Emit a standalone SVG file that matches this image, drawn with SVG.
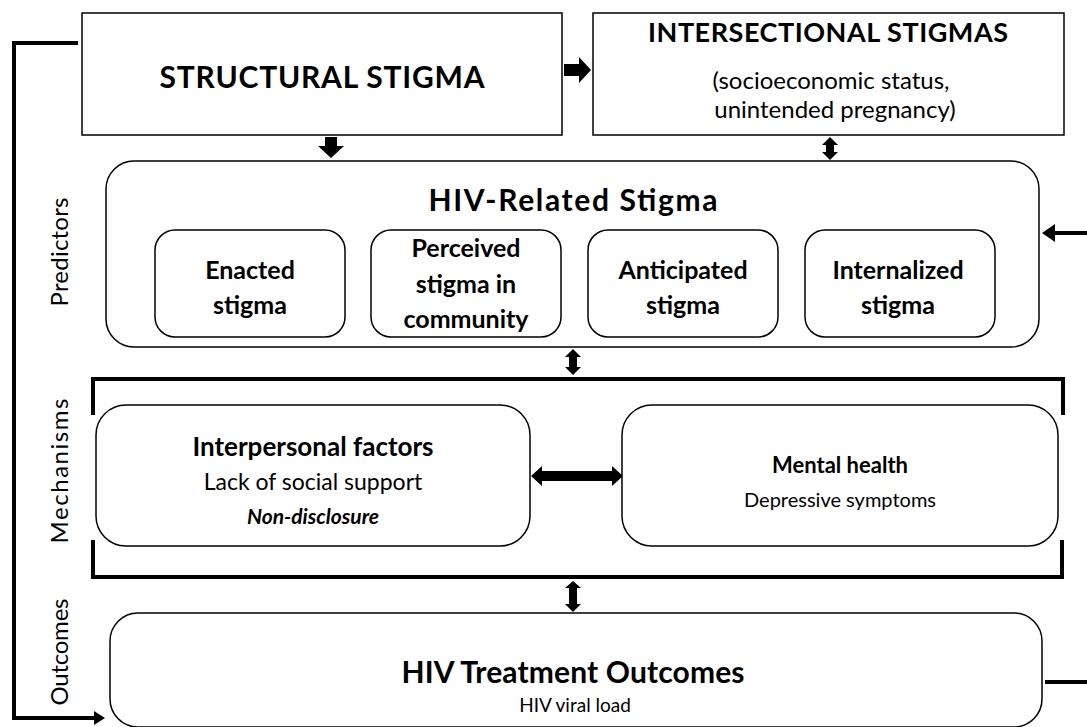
<svg xmlns="http://www.w3.org/2000/svg" width="1087" height="727" viewBox="0 0 1087 727">
<style>
.box{fill:#fff;stroke:#000;stroke-width:1.5}
.t{font-family:Lato,"Liberation Sans",sans-serif;fill:#000;text-anchor:middle}
.b{font-weight:bold}
.line{fill:none;stroke:#000;stroke-width:4}
.ah{fill:#000}
</style>
<rect width="1087" height="727" fill="#fff"/>
<g id="connectors">
<path class="line" d="M78,43 H14 V718 H96"/>
<polygon class="ah" points="94,711 105,718 94,725"/>
<path class="line" d="M1087,682 H1045"/>
<path class="line" d="M1087,233 H1054"/>
<polygon class="ah" points="1055,224 1042,233 1055,242"/>
<polygon class="ah" points="564,64 579,64 579,57 591,70 579,83 579,76 564,76"/>
<polygon class="ah" points="325,137 337,137 337,146 344,146 331,158 318,146 325,146"/>
<polygon class="ah" points="830,137 838,145 834,145 834,152 838,152 830,160 822,152 826,152 826,145 822,145"/>
<polygon class="ah" points="573,349 581,357 577,357 577,367 581,367 573,375 565,367 569,367 569,357 565,357"/>
<polygon class="ah" points="573,581 581,588 577,588 577,604 581,604 573,612 565,604 569,604 569,588 565,588"/>
<polygon class="ah" points="531,476 542,466 542,471 612,471 612,466 623,476 612,486 612,481 542,481 542,486"/>
<path class="line" d="M93,415 V379 H1063 V415"/>
<path class="line" d="M93,540 V577 H1062 V540"/>
</g>
<g id="labels">
<text class="t" font-size="24" textLength="109" transform="translate(68,252) rotate(-90)">Predictors</text>
<text class="t" font-size="24" textLength="145" transform="translate(68,471) rotate(-90)">Mechanisms</text>
<text class="t" font-size="24" textLength="107" transform="translate(68,652) rotate(-90)">Outcomes</text>
</g>
<g id="structural">
<rect class="box" x="82" y="13" width="480" height="122"/>
<text class="t b" font-size="30" textLength="325" x="322" y="88">STRUCTURAL STIGMA</text>
</g>
<g id="intersectional">
<rect class="box" x="593" y="13" width="471" height="122"/>
<text class="t b" font-size="27" textLength="360" x="828" y="42">INTERSECTIONAL STIGMAS</text>
<text class="t" font-size="24" x="831" y="89">(socioeconomic status,</text>
<text class="t" font-size="24" x="835" y="118">unintended pregnancy)</text>
</g>
<g id="hiv-stigma">
<rect class="box" x="106" y="161" width="933" height="186" rx="28"/>
<text class="t b" font-size="30" textLength="289" x="573" y="211">HIV-Related Stigma</text>
</g>
<g id="enacted">
<rect class="box" x="155" y="230" width="190" height="107" rx="20"/>
<text class="t b" font-size="25" x="250" y="279">Enacted</text>
<text class="t b" font-size="25" x="250" y="314">stigma</text>
</g>
<g id="perceived">
<rect class="box" x="371" y="230" width="190" height="107" rx="20"/>
<text class="t b" font-size="25" x="466" y="257">Perceived</text>
<text class="t b" font-size="25" x="466" y="293">stigma in</text>
<text class="t b" font-size="25" x="466" y="328">community</text>
</g>
<g id="anticipated">
<rect class="box" x="588" y="230" width="190" height="107" rx="20"/>
<text class="t b" font-size="25" x="683" y="279">Anticipated</text>
<text class="t b" font-size="25" x="683" y="314">stigma</text>
</g>
<g id="internalized">
<rect class="box" x="805" y="230" width="190" height="107" rx="20"/>
<text class="t b" font-size="25" x="898" y="279">Internalized</text>
<text class="t b" font-size="25" x="898" y="314">stigma</text>
</g>
<g id="interpersonal">
<rect class="box" x="96" y="405" width="434" height="141" rx="30"/>
<text class="t b" font-size="26" x="313" y="456">Interpersonal factors</text>
<text class="t" font-size="23" x="313" y="490">Lack of social support</text>
<text class="t b" font-size="21" font-style="italic" x="313" y="524">Non-disclosure</text>
</g>
<g id="mental">
<rect class="box" x="622" y="405" width="436" height="141" rx="30"/>
<text class="t b" font-size="22" x="840" y="473">Mental health</text>
<text class="t" font-size="20" x="840" y="507">Depressive symptoms</text>
</g>
<g id="outcomes">
<rect class="box" x="110" y="613" width="932" height="114" rx="28"/>
<text class="t b" font-size="30" textLength="343" x="573" y="683">HIV Treatment Outcomes</text>
<text class="t" font-size="19" x="575" y="712">HIV viral load</text>
</g>
</svg>
